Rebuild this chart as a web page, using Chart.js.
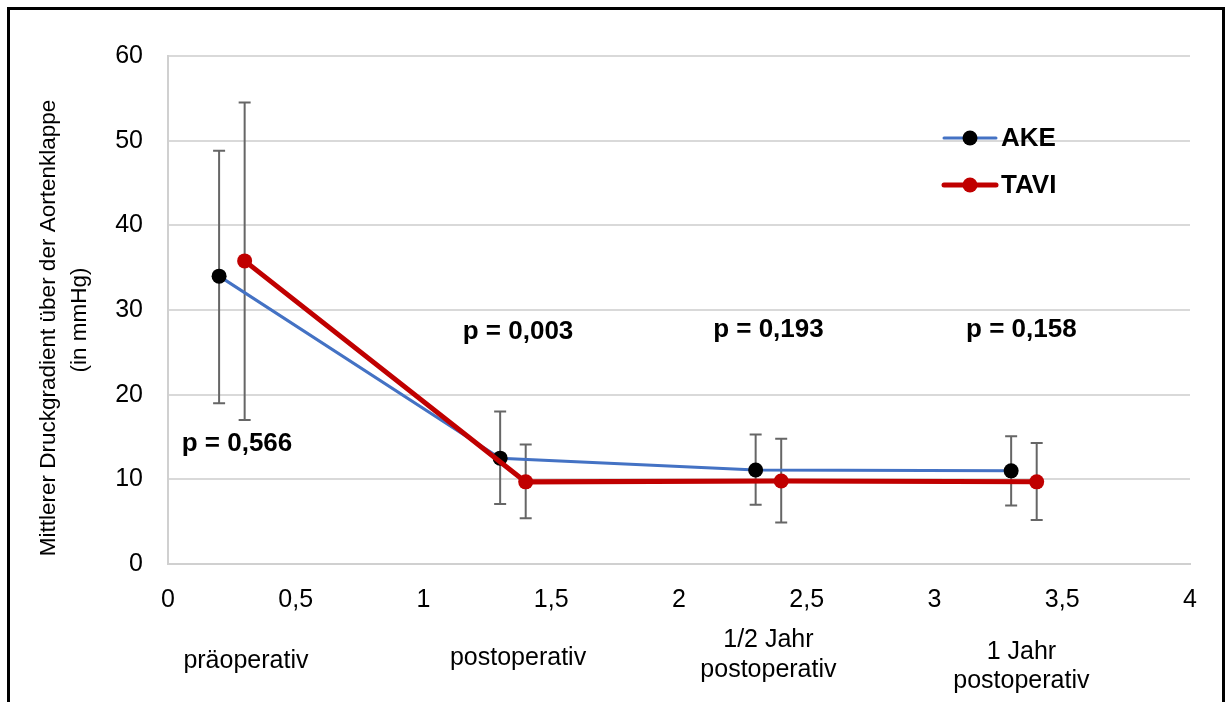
<!DOCTYPE html>
<html>
<head>
<meta charset="utf-8">
<script src="https://cdn.jsdelivr.net/npm/chart.js@4/dist/chart.umd.min.js"></script>
<style>
  html, body { margin: 0; padding: 0; background: #fff; }
  #frame {
    position: absolute; left: 7px; top: 7px;
    width: 1212px; height: 740px;
    border: 3px solid #000;
  }
  #chart { position: absolute; left: 0; top: 0; }
</style>
</head>
<body>
<div id="frame"></div>
<canvas id="chart" width="1228" height="702"></canvas>
<script>
// measurement time points (x offsets per group) and mean gradients in mmHg
const akeX = [0.2, 1.3, 2.3, 3.3];
const akeMean = [34.0, 12.5, 11.1, 11.0];
const akeLow = [19.0, 7.1, 7.0, 6.9];
const akeHigh = [48.8, 18.0, 15.3, 15.1];

const taviX = [0.3, 1.4, 2.4, 3.4];
const taviMean = [35.8, 9.7, 9.8, 9.7];
const taviLow = [17.0, 5.4, 4.9, 5.2];
const taviHigh = [54.5, 14.1, 14.8, 14.3];

const pLabels = ['p = 0,566', 'p = 0,003', 'p = 0,193', 'p = 0,158'];
const pX = [0.27, 1.37, 2.35, 3.34];
const pY = [14.2, 27.4, 27.6, 27.6];

const groupLabels = [['präoperativ'], ['postoperativ'], ['1/2 Jahr', 'postoperativ'], ['1 Jahr', 'postoperativ']];
const groupX = [0.305, 1.37, 2.35, 3.34];

const FONT = '"Liberation Sans", Arial, sans-serif';

function toPoints(xs, ys) {
  return xs.map((x, i) => ({ x: x, y: ys[i] }));
}

// whiskers behind the lines
const errorBars = {
  id: 'errorBars',
  beforeDatasetsDraw(chart) {
    const ctx = chart.ctx;
    const xs = chart.scales.x, ys = chart.scales.y;
    const sets = [[akeX, akeLow, akeHigh], [taviX, taviLow, taviHigh]];
    ctx.save();
    ctx.strokeStyle = '#666';
    ctx.lineWidth = 2;
    sets.forEach(([xv, lo, hi]) => {
      xv.forEach((x, i) => {
        const px = xs.getPixelForValue(x);
        const y1 = ys.getPixelForValue(lo[i]);
        const y2 = ys.getPixelForValue(hi[i]);
        ctx.beginPath();
        ctx.moveTo(px, y1); ctx.lineTo(px, y2);
        ctx.moveTo(px - 6, y1); ctx.lineTo(px + 6, y1);
        ctx.moveTo(px - 6, y2); ctx.lineTo(px + 6, y2);
        ctx.stroke();
      });
    });
    ctx.restore();
  }
};

// p-values, group names, legend and axis title
const annotations = {
  id: 'annotations',
  afterDraw(chart) {
    const ctx = chart.ctx;
    const xs = chart.scales.x, ys = chart.scales.y;
    const area = chart.chartArea;
    ctx.save();
    ctx.fillStyle = '#000';
    ctx.textAlign = 'center';
    ctx.textBaseline = 'middle';

    ctx.font = 'bold 26px ' + FONT;
    pLabels.forEach((t, i) => {
      ctx.fillText(t, xs.getPixelForValue(pX[i]), ys.getPixelForValue(pY[i]));
    });

    ctx.font = '25px ' + FONT;
    const lineOffsets = [[97], [94], [76, 106], [88, 117]];
    groupLabels.forEach((lines, i) => {
      const px = xs.getPixelForValue(groupX[i]);
      lines.forEach((t, j) => ctx.fillText(t, px, area.bottom + lineOffsets[i][j]));
    });

    // legend
    const items = [
      { text: 'AKE', line: '#4472C4', dot: '#000', width: 3, y: 138 },
      { text: 'TAVI', line: '#C00000', dot: '#C00000', width: 5, y: 185 }
    ];
    ctx.font = 'bold 26px ' + FONT;
    ctx.textAlign = 'left';
    items.forEach(it => {
      ctx.strokeStyle = it.line;
      ctx.lineWidth = it.width;
      ctx.lineCap = 'round';
      ctx.beginPath();
      ctx.moveTo(944, it.y); ctx.lineTo(996, it.y);
      ctx.stroke();
      ctx.fillStyle = it.dot;
      ctx.beginPath();
      ctx.arc(970, it.y, 7.5, 0, Math.PI * 2);
      ctx.fill();
      ctx.fillStyle = '#000';
      ctx.fillText(it.text, 1001, it.y + 1);
    });

    // y axis title, two lines
    ctx.font = '22.5px ' + FONT;
    ctx.textAlign = 'center';
    ctx.translate(0, 326);
    ctx.rotate(-Math.PI / 2);
    ctx.fillText('Mittlerer Druckgradient über der Aortenklappe', -2, 49);
    ctx.fillText('(in mmHg)', 6, 80);
    ctx.restore();
  }
};

new Chart(document.getElementById('chart'), {
  type: 'scatter',
  data: {
    datasets: [
      {
        label: 'AKE',
        data: toPoints(akeX, akeMean),
        showLine: true,
        borderColor: '#4472C4',
        borderWidth: 3,
        pointRadius: 7.5,
        pointBackgroundColor: '#000',
        pointBorderColor: '#000',
        pointBorderWidth: 0,
        order: 2
      },
      {
        label: 'TAVI',
        data: toPoints(taviX, taviMean),
        showLine: true,
        borderColor: '#C00000',
        borderWidth: 5,
        pointRadius: 7.5,
        pointBackgroundColor: '#C00000',
        pointBorderColor: '#C00000',
        pointBorderWidth: 0,
        order: 1
      }
    ]
  },
  options: {
    responsive: false,
    animation: false,
    layout: { padding: { left: 0, top: 56, right: 38, bottom: 0 } },
    plugins: {
      legend: { display: false },
      tooltip: { enabled: false }
    },
    scales: {
      x: {
        type: 'linear',
        min: 0,
        max: 4,
        afterFit: s => { s.height = 138; },
        ticks: {
          stepSize: 0.5,
          padding: 21,
          color: '#000',
          font: { family: FONT, size: 25 },
          callback: v => String(v).replace('.', ',')
        },
        grid: { display: false, drawTicks: false },
        border: { display: true, color: '#d0d0d0', width: 2 }
      },
      y: {
        min: 0,
        max: 60,
        afterFit: s => { s.width = 168; },
        ticks: {
          stepSize: 10,
          padding: 25,
          color: '#000',
          font: { family: FONT, size: 25 }
        },
        grid: { color: '#d9d9d9', lineWidth: 2, drawTicks: false },
        border: { display: true, color: '#d0d0d0', width: 2 }
      }
    }
  },
  plugins: [errorBars, annotations]
});
</script>
</body>
</html>
